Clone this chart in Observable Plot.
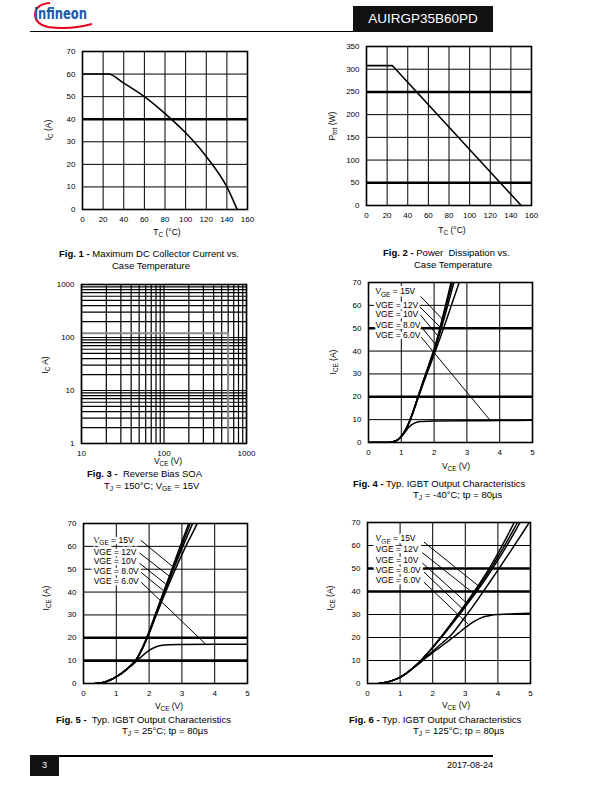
<!DOCTYPE html>
<html>
<head>
<meta charset="utf-8">
<script src="https://cdn.jsdelivr.net/npm/d3@7"></script>
<script src="https://cdn.jsdelivr.net/npm/@observablehq/plot@0.6"></script>
<style>
  html, body { margin: 0; padding: 0; background: #fff; }
  #page { position: relative; width: 612px; height: 792px; overflow: hidden; background: #fff;
          font-family: 'Liberation Sans', Arial, sans-serif; color: #000; }
  .abs { position: absolute; white-space: nowrap; }
  .axl { position: absolute; white-space: nowrap; font-size: 8.5px; line-height: 1; transform: translate(-50%, -50%); }
  .axl.rot { transform: translate(-50%, -50%) rotate(-90deg); }
  .sub { font-size: 0.75em; position: relative; top: 0.3em; }
  .cap { position: absolute; white-space: nowrap; font-size: 9.5px; line-height: 1; }
  .cap b { font-weight: bold; }
</style>
</head>
<body>
<div id="page"></div>
<script>
// ---------------- DATA ----------------
// Fig. 1 : Max DC collector current vs case temperature
const fig1Tc = [0, 25, 40, 60, 80, 100, 120, 140, 150];
const fig1Ic = [60, 60, 56, 50, 42.5, 34, 23.5, 10, 0];
const fig1XTicks = [0, 20, 40, 60, 80, 100, 120, 140, 160];
const fig1YTicks = [0, 10, 20, 30, 40, 50, 60, 70];
const fig1Thick = [40];

// Fig. 2 : Power dissipation vs case temperature
const fig2Tc = [0, 25, 150];
const fig2Ptot = [308, 308, 0];
const fig2XTicks = [0, 20, 40, 60, 80, 100, 120, 140, 160];
const fig2YTicks = [0, 50, 100, 150, 200, 250, 300, 350];
const fig2Thick = [50, 250];

// Fig. 3 : Reverse bias SOA
const fig3Vce = [10, 600, 600];
const fig3Ic = [120, 120, 1];
const fig3XTicks = [10, 100, 1000];
const fig3YTicks = [1, 10, 100, 1000];
const fig3XGrid = [10, 20, 30, 40, 50, 60, 70, 80, 90, 100, 200, 300, 400, 500, 600, 700, 800, 900, 1000];
const fig3YGrid = [1, 2, 3, 4, 5, 6, 7, 8, 9, 10, 20, 30, 40, 50, 60, 70, 80, 90, 100, 200, 300, 400, 500, 600, 700, 800, 900, 1000];

// Output characteristics, common axes
const vceTicks = [0, 1, 2, 3, 4, 5];
const iceTicks = [0, 10, 20, 30, 40, 50, 60, 70];
const vgeLabels = ["VGE = 15V", "VGE = 12V", "VGE = 10V", "VGE = 8.0V", "VGE = 6.0V"];

// Fig. 4 : TJ = -40°C   ([VCE, ICE] pairs)
const fig4Vge15 = [[0,0],[0.6,0],[0.75,0.3],[0.9,1.3],[1.0,2.7],[1.1,4.8],[1.2,7.6],[1.3,11.2],[1.4,15.2],[1.5,19.6],[1.6,24],[1.7,28.2],[1.8,32.4],[1.9,36.6],[2.0,40.8],[2.1,45.8],[2.2,51.4],[2.3,57.2],[2.4,63],[2.5,69],[2.6,75]];
const fig4Vge12 = [[0,0],[0.6,0],[0.75,0.3],[0.9,1.3],[1.0,2.7],[1.1,4.8],[1.2,7.6],[1.3,11.2],[1.4,15.2],[1.5,19.6],[1.6,23.8],[1.7,28],[1.8,32.2],[1.9,36.3],[2.0,40.4],[2.1,45.1],[2.2,50.3],[2.3,55.8],[2.4,61.4],[2.5,67],[2.6,72.6]];
const fig4Vge10 = [[0,0],[0.6,0],[0.75,0.3],[0.9,1.3],[1.0,2.7],[1.1,4.8],[1.2,7.5],[1.3,11],[1.4,15],[1.5,19.3],[1.6,23.5],[1.7,27.6],[1.8,31.7],[1.9,35.8],[2.0,39.8],[2.1,44.2],[2.2,49],[2.3,54],[2.4,59.2],[2.5,64.5],[2.6,69.8],[2.7,75]];
const fig4Vge8 = [[0,0],[0.6,0],[0.75,0.3],[0.9,1.3],[1.0,2.7],[1.1,4.7],[1.2,7.4],[1.3,10.8],[1.4,14.8],[1.5,19],[1.6,23],[1.7,27],[1.8,30.8],[1.9,34.6],[2.0,38.5],[2.1,42.4],[2.2,46.4],[2.3,50.5],[2.4,54.7],[2.5,58.9],[2.6,63.1],[2.7,67.3],[2.8,71.5]];
const fig4Vge6 = [[0,0],[0.6,0],[0.75,0.3],[0.9,1.3],[1.0,2.6],[1.1,4.3],[1.2,6.2],[1.3,7.6],[1.4,8.5],[1.5,9],[1.6,9.2],[1.8,9.35],[2.0,9.4],[3.0,9.5],[4.0,9.6],[5.0,9.7]];
const fig4Thick = [20, 50];
const fig4LabelX = [0.21, 0.21, 0.21, 0.21, 0.21];
const fig4LabelY = [66.1, 60.1, 55.9, 51.3, 46.7];
const fig4LinkX1 = [1.59, 1.56, 1.59, 1.59, 1.59];
const fig4LinkY1 = [63.9, 59.4, 55.7, 51.0, 46.4];
const fig4LinkX2 = [2.25, 2.20, 2.11, 2.04, 3.72];
const fig4LinkY2 = [54.0, 50.3, 46.7, 43.0, 9.5];

// Fig. 5 : TJ = 25°C
const fig5Vge15 = [[0.35,0],[0.5,0.2],[0.7,0.9],[0.9,2.1],[1.0,3],[1.2,4.9],[1.4,7.3],[1.6,10.3],[1.8,15.8],[2.0,22.6],[2.2,30.7],[2.4,38.5],[2.6,46.3],[2.8,54.2],[3.0,62],[3.2,69.7],[3.3,73.5]];
const fig5Vge12 = [[0.35,0],[0.5,0.2],[0.7,0.9],[0.9,2.1],[1.0,3],[1.2,4.9],[1.4,7.3],[1.6,10.3],[1.8,15.6],[2.0,22.4],[2.2,30.3],[2.4,38],[2.6,45.5],[2.8,53],[3.0,60.5],[3.2,68],[3.3,71.8]];
const fig5Vge10 = [[0.35,0],[0.5,0.2],[0.7,0.9],[0.9,2.1],[1.0,3],[1.2,4.9],[1.4,7.3],[1.6,10.3],[1.8,15.5],[2.0,22.2],[2.2,30],[2.4,37.5],[2.6,44.8],[2.8,52],[3.0,59],[3.2,65.8],[3.4,72.4]];
const fig5Vge8 = [[0.35,0],[0.5,0.2],[0.7,0.9],[0.9,2.1],[1.0,3],[1.2,4.9],[1.4,7.3],[1.6,10.3],[1.8,15.3],[2.0,21.8],[2.2,29.2],[2.4,36.4],[2.6,43.3],[2.8,50],[3.0,56.4],[3.2,62.4],[3.4,68],[3.5,71]];
const fig5Vge6 = [[0.35,0],[0.5,0.2],[0.7,0.9],[0.9,2.1],[1.0,3],[1.2,4.8],[1.4,7.1],[1.6,9.6],[1.8,12.2],[2.0,14.5],[2.2,16],[2.4,16.7],[2.6,17],[3.0,17.1],[4.0,17.2],[5.0,17.2]];
const fig5Thick = [10, 20];
const fig5LabelX = [0.31, 0.31, 0.31, 0.31, 0.31];
const fig5LabelY = [62.7, 57.4, 53.3, 48.9, 44.7];
const fig5LinkX1 = [1.74, 1.71, 1.71, 1.76, 1.76];
const fig5LinkY1 = [62.7, 57.1, 52.6, 48.6, 44.3];
const fig5LinkX2 = [2.75, 2.63, 2.50, 2.43, 3.73];
const fig5LinkY2 = [50.8, 46.8, 43.6, 40.7, 17.1];

// Fig. 6 : TJ = 125°C
const fig6Vge15 = [[0.35,0],[0.5,0.3],[0.7,1],[0.9,2],[1.0,2.7],[1.2,4.5],[1.4,6.8],[1.6,9.4],[1.8,12.5],[2.0,15.8],[2.2,19.3],[2.4,23],[2.6,26.8],[2.8,30.6],[3.0,34.5],[3.2,38.5],[3.4,42.6],[3.6,47],[3.8,51.6],[4.0,56.6],[4.2,61.8],[4.4,67.2],[4.5,70],[4.6,72.8]];
const fig6Vge12 = [[0.35,0],[0.5,0.3],[0.7,1],[0.9,2],[1.0,2.7],[1.2,4.5],[1.4,6.8],[1.6,9.4],[1.8,12.5],[2.0,15.7],[2.2,19.1],[2.4,22.7],[2.6,26.4],[2.8,30.1],[3.0,33.9],[3.2,37.8],[3.4,41.8],[3.6,46],[3.8,50.4],[4.0,55],[4.2,59.8],[4.4,64.8],[4.6,70],[4.7,72.6]];
const fig6Vge10 = [[0.35,0],[0.5,0.3],[0.7,1],[0.9,2],[1.0,2.7],[1.2,4.5],[1.4,6.8],[1.6,9.3],[1.8,12.4],[2.0,15.6],[2.2,18.9],[2.4,22.4],[2.6,26],[2.8,29.6],[3.0,33.3],[3.2,37.1],[3.4,41],[3.6,45],[3.8,49.2],[4.0,53.6],[4.2,58.2],[4.4,63],[4.6,68],[4.7,70.6]];
const fig6Vge8 = [[0.35,0],[0.5,0.3],[0.7,1],[0.9,2],[1.0,2.7],[1.2,4.5],[1.4,6.7],[1.6,8.8],[1.8,11.3],[2.0,14],[2.2,16.5],[2.4,18.9],[2.6,21.6],[2.8,25.2],[3.0,29],[3.2,32.9],[3.4,36.9],[3.6,41],[3.8,45.1],[4.0,49.3],[4.2,53.5],[4.4,57.8],[4.6,62.1],[4.8,66.4],[5.0,70.8]];
const fig6Vge6 = [[0.35,0],[0.5,0.3],[0.7,1],[0.9,2],[1.0,2.7],[1.2,4.5],[1.4,6.8],[1.6,9.1],[1.8,11.3],[2.0,13.4],[2.2,15.5],[2.4,17.6],[2.6,19.8],[2.8,22],[3.0,24.3],[3.2,26.4],[3.4,28],[3.6,29.1],[3.8,29.7],[4.0,30],[4.5,30.3],[5.0,30.5]];
const fig6Thick = [40, 50];
const fig6LabelX = [0.25, 0.25, 0.25, 0.25, 0.25];
const fig6LabelY = [63.0, 58.2, 53.6, 49.2, 44.8];
const fig6LinkX1 = [1.73, 1.68, 1.68, 1.73, 1.73];
const fig6LinkY1 = [61.5, 56.9, 52.4, 48.5, 44.1];
const fig6LinkX2 = [3.39, 3.21, 3.01, 2.91, 3.08];
const fig6LinkY2 = [42.6, 39.7, 35.4, 32.5, 25.9];

// ---------------- RENDER ----------------
const FONT = "'Liberation Sans', Arial, sans-serif";
const page = document.getElementById("page");
const ML = 36, MR = 10, MT = 8, MB = 20;
const fmt = d => String(d);

function place(html, cls, style) {
  const d = document.createElement("div");
  d.className = cls;
  Object.assign(d.style, style);
  d.innerHTML = html;
  page.appendChild(d);
  return d;
}

function makeChart(cfg) {
  const svg = Plot.plot({
    width: cfg.w + ML + MR,
    height: cfg.h + MT + MB,
    marginLeft: ML, marginRight: MR, marginTop: MT, marginBottom: MB,
    style: { fontFamily: FONT, fontSize: "8px", color: "black", background: "transparent", overflow: "visible" },
    x: { type: cfg.xType || "linear", domain: cfg.xDomain },
    y: { type: cfg.yType || "linear", domain: cfg.yDomain },
    marks: [
      Plot.gridX(cfg.xGrid, { stroke: "black", strokeOpacity: 1, strokeWidth: cfg.gw || 1 }),
      Plot.gridY(cfg.yGrid, { stroke: "black", strokeOpacity: 1, strokeWidth: cfg.gw || 1 }),
      Plot.ruleY(cfg.thick || [], { stroke: "black", strokeWidth: 2.6 }),
      ...cfg.marks,
      Plot.frame({ stroke: "black", strokeWidth: 1.6 }),
      Plot.axisX(cfg.xTicks, { tickSize: 0, tickPadding: 7, label: null, tickFormat: fmt }),
      Plot.axisY(cfg.yTicks, { tickSize: 0, tickPadding: 7, label: null, tickFormat: fmt })
    ]
  });
  svg.style.position = "absolute";
  svg.style.left = (cfg.left - ML) + "px";
  svg.style.top = (cfg.top - MT) + "px";
  // subscript on first VGE label
  svg.querySelectorAll("text").forEach(t => {
    if (t.textContent === vgeLabels[0]) {
      t.textContent = "";
      const ns = "http://www.w3.org/2000/svg";
      const a = document.createElementNS(ns, "tspan"); a.textContent = "V";
      const b = document.createElementNS(ns, "tspan"); b.textContent = "GE";
      b.setAttribute("font-size", "6.5"); b.setAttribute("dy", "2.5");
      const c = document.createElementNS(ns, "tspan"); c.textContent = " = 15V";
      c.setAttribute("dy", "-2.5");
      t.appendChild(a); t.appendChild(b); t.appendChild(c);
    }
  });
  page.appendChild(svg);
}

function curveMarks(curves, lx, ly, x1, y1, x2, y2) {
  const marks = curves.map(c => Plot.line(c, { x: d => d[0], y: d => d[1], stroke: "black", strokeWidth: 1.5, curve: "monotone-x", clip: true }));
  const links = vgeLabels.map((t, i) => ({ x1: x1[i], y1: y1[i], x2: x2[i], y2: y2[i] }));
  marks.push(Plot.link(links, { x1: "x1", y1: "y1", x2: "x2", y2: "y2", stroke: "black", strokeWidth: 1 }));
  const labs = vgeLabels.map((t, i) => ({ x: lx[i], y: ly[i], t }));
  marks.push(Plot.text(labs, { x: "x", y: "y", text: "t", textAnchor: "start", fontSize: 8.5, fill: "black", stroke: "white", strokeWidth: 5, fontFamily: FONT }));
  return marks;
}

// Fig 1
makeChart({
  left: 82, top: 51, w: 165, h: 158,
  xDomain: [0, 160], yDomain: [0, 70],
  xGrid: fig1XTicks, yGrid: fig1YTicks, xTicks: fig1XTicks, yTicks: fig1YTicks, thick: fig1Thick,
  marks: [Plot.line(fig1Tc.map((t, i) => [t, fig1Ic[i]]), { x: d => d[0], y: d => d[1], stroke: "black", strokeWidth: 1.6, curve: "monotone-x" })]
});
// Fig 2
makeChart({
  left: 366, top: 46, w: 165, h: 159,
  xDomain: [0, 160], yDomain: [0, 350],
  xGrid: fig2XTicks, yGrid: fig2YTicks, xTicks: fig2XTicks, yTicks: fig2YTicks, thick: fig2Thick,
  marks: [Plot.line(fig2Tc.map((t, i) => [t, fig2Ptot[i]]), { x: d => d[0], y: d => d[1], stroke: "black", strokeWidth: 1.6 })]
});
// Fig 3
makeChart({
  left: 81, top: 284, w: 165, h: 159, xType: "log", yType: "log", gw: 1.2,
  xDomain: [10, 1000], yDomain: [1, 1000],
  xGrid: fig3XGrid, yGrid: fig3YGrid, xTicks: fig3XTicks, yTicks: fig3YTicks,
  marks: [Plot.line(fig3Vce.map((v, i) => [v, fig3Ic[i]]), { x: d => d[0], y: d => d[1], stroke: "#8a8a8a", strokeWidth: 2 })]
});
// Fig 4
makeChart({
  left: 368, top: 282, w: 164, h: 160,
  xDomain: [0, 5], yDomain: [0, 70],
  xGrid: vceTicks, yGrid: iceTicks, xTicks: vceTicks, yTicks: iceTicks, thick: fig4Thick,
  marks: curveMarks([fig4Vge15, fig4Vge12, fig4Vge10, fig4Vge8, fig4Vge6], fig4LabelX, fig4LabelY, fig4LinkX1, fig4LinkY1, fig4LinkX2, fig4LinkY2)
});
// Fig 5
makeChart({
  left: 83, top: 523, w: 164, h: 160,
  xDomain: [0, 5], yDomain: [0, 70],
  xGrid: vceTicks, yGrid: iceTicks, xTicks: vceTicks, yTicks: iceTicks, thick: fig5Thick,
  marks: curveMarks([fig5Vge15, fig5Vge12, fig5Vge10, fig5Vge8, fig5Vge6], fig5LabelX, fig5LabelY, fig5LinkX1, fig5LinkY1, fig5LinkX2, fig5LinkY2)
});
// Fig 6
makeChart({
  left: 367, top: 522, w: 163, h: 161,
  xDomain: [0, 5], yDomain: [0, 70],
  xGrid: vceTicks, yGrid: iceTicks, xTicks: vceTicks, yTicks: iceTicks, thick: fig6Thick,
  marks: curveMarks([fig6Vge15, fig6Vge12, fig6Vge10, fig6Vge8, fig6Vge6], fig6LabelX, fig6LabelY, fig6LinkX1, fig6LinkY1, fig6LinkX2, fig6LinkY2)
});

// Axis titles
const S = s => `<span class="sub">${s}</span>`;
place(`I${S("C")} (A)`, "axl rot", { left: "48px", top: "130px" });
place(`T${S("C")} (°C)`, "axl", { left: "167px", top: "232px" });
place(`P${S("tot")} (W)`, "axl rot", { left: "332px", top: "126px" });
place(`T${S("C")} (°C)`, "axl", { left: "452px", top: "230px" });
place(`I${S("C")} A)`, "axl rot", { left: "45px", top: "365px" });
place(`V${S("CE")} (V)`, "axl", { left: "168px", top: "461px" });
place(`I${S("CE")} (A)`, "axl rot", { left: "333px", top: "362px" });
place(`V${S("CE")} (V)`, "axl", { left: "456px", top: "466px" });
place(`I${S("CE")} (A)`, "axl rot", { left: "46px", top: "598px" });
place(`V${S("CE")} (V)`, "axl", { left: "169px", top: "706px" });
place(`I${S("CE")} (A)`, "axl rot", { left: "330px", top: "598px" });
place(`V${S("CE")} (V)`, "axl", { left: "456px", top: "705px" });

// Captions
const s2 = s => `<span style="font-size:0.7em;position:relative;top:0.25em">${s}</span>`;
place(`<b>Fig. 1 -</b> Maximum DC Collector Current vs.`, "cap", { left: "59px", top: "249px" });
place(`Case Temperature`, "cap", { left: "112px", top: "261px" });
place(`<b>Fig. 2 -</b> Power&nbsp; Dissipation vs.`, "cap", { left: "383px", top: "248px" });
place(`Case Temperature`, "cap", { left: "414px", top: "260px" });
place(`<b>Fig. 3 -</b>&nbsp; Reverse Bias SOA`, "cap", { left: "87px", top: "469px" });
place(`T${s2("J")} = 150°C; V${s2("GE")} = 15V`, "cap", { left: "104px", top: "481px" });
place(`<b>Fig. 4 -</b> Typ. IGBT Output Characteristics`, "cap", { left: "353px", top: "479px" });
place(`T${s2("J")} = -40°C; tp = 80µs`, "cap", { left: "413px", top: "490px" });
place(`<b>Fig. 5 -</b>&nbsp; Typ. IGBT Output Characteristics`, "cap", { left: "56px", top: "715px" });
place(`T${s2("J")} = 25°C; tp = 80µs`, "cap", { left: "122px", top: "726px" });
place(`<b>Fig. 6 -</b> Typ. IGBT Output Characteristics`, "cap", { left: "349px", top: "715px" });
place(`T${s2("J")} = 125°C; tp = 80µs`, "cap", { left: "413px", top: "726px" });

// Header
place(`<svg width="70" height="30" viewBox="0 0 70 30">
  <path d="M 20,3 Q 6,4 5,14 Q 5,24 18,27 Q 40,30 62,24" fill="none" stroke="#e2001a" stroke-width="2"/>
  <text x="4" y="19" font-family="'Liberation Sans Narrow','DejaVu Sans Condensed','Liberation Sans',sans-serif" font-weight="bold" font-size="15" fill="#1d5aa8" textLength="53" lengthAdjust="spacingAndGlyphs">infineon</text>
</svg>`, "abs", { left: "30px", top: "0px" });
place("", "abs", { left: "30px", top: "31px", width: "323px", height: "1.3px", background: "#000" });
place("AUIRGP35B60PD", "abs", { left: "353px", top: "6px", width: "140px", height: "26px", background: "#111", color: "#fff",
  fontSize: "13.5px", lineHeight: "26px", textAlign: "center" });

// Footer
place("3", "abs", { left: "30px", top: "755px", width: "29px", height: "21px", background: "#111", color: "#fff",
  fontSize: "9px", lineHeight: "21px", textAlign: "center" });
place("", "abs", { left: "59px", top: "755px", width: "434px", height: "1.5px", background: "#000" });
place("2017-08-24", "abs", { left: "393px", top: "761px", width: "100px", textAlign: "right", fontSize: "9px", lineHeight: "1" });
</script>
</body>
</html>
